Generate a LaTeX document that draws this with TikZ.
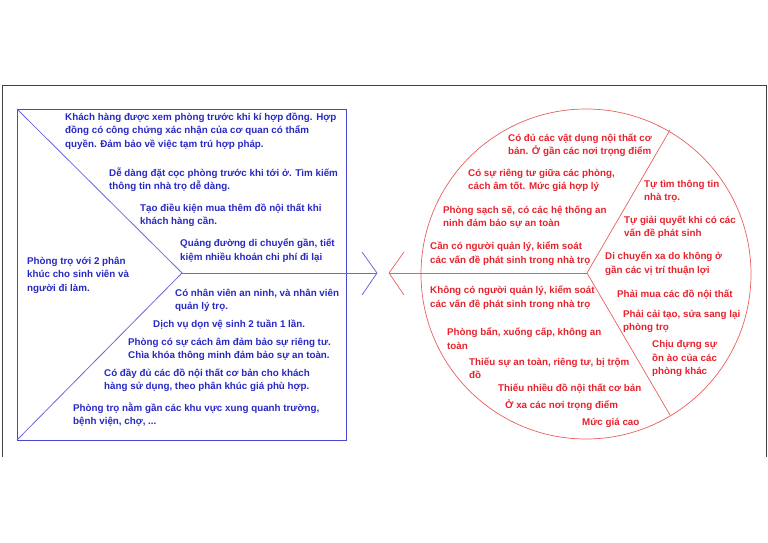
\documentclass[tikz,border=0pt]{standalone}
\usepackage{fontspec}
\setmainfont{Liberation Sans}

\begin{document}
\begin{tikzpicture}[x=1pt,y=-1pt,
    bluetext/.style={text=textblue, anchor=north west, inner sep=0pt, align=left,
        font=\fontsize{9.8}{13.5}\selectfont\bfseries, execute at begin node=\strut},
    redtext/.style={bluetext, text=textred}]
    % Define colors
    \definecolor{textblue}{RGB}{40,40,195}
    \definecolor{lineblue}{RGB}{105,105,220}
    \definecolor{textred}{RGB}{230,35,45}
    \definecolor{linered}{RGB}{232,95,95}

    \useasboundingbox (0,0) rectangle (768,543);

    % Draw the page frame
    \draw[black!75, line width=0.8pt] (2,457) -- (2,85) -- (766,85) -- (766,457);

    % Draw blue box with its chevron and arrow
    \draw[textblue!85, line width=0.9pt] (17,109) rectangle (346,440);
    \coordinate (bvertex) at (182,273);
    \coordinate (btip) at (377,273);
    \draw[lineblue, line width=0.8pt] (17,109) -- (bvertex) -- (17,440);
    \draw[lineblue, line width=0.8pt] (bvertex) -- (btip);
    \draw[lineblue, line width=0.8pt] (362,252) -- (btip) -- (362,295);

    % Draw red circle with its chevron and arrow
    \draw[linered, line width=0.7pt] (586,274) circle (165pt);
    \coordinate (rvertex) at (587,273);
    \coordinate (rtip) at (389,273);
    \draw[linered, line width=0.7pt] (rtip) -- (rvertex);
    \draw[linered, line width=0.7pt] (404,252) -- (rtip) -- (404,295);
    \draw[linered, line width=0.7pt] (670,130) -- (rvertex) -- (670,415);

    % Add blue texts
    \foreach \px/\py/\txt [count=\i] in {
        65/116/{Khách hàng được xem phòng trước khi kí hợp đồng. Hợp\\đồng có công chứng xác nhận của cơ quan có thẩm\\quyền. Đảm bảo về việc tạm trú hợp pháp.},
        109/171/{Dễ dàng đặt cọc phòng trước khi tới ở. Tìm kiếm\\thông tin nhà trọ dễ dàng.},
        140/207/{Tạo điều kiện mua thêm đồ nội thất khi\\khách hàng cần.},
        180/242/{Quảng đường di chuyển gần, tiết\\kiệm nhiều khoản chi phí đi lại},
        27/260/{Phòng trọ với 2 phân\\khúc cho sinh viên và\\người đi làm.},
        175/292/{Có nhân viên an ninh, và nhân viên\\quản lý trọ.},
        153/321/{Dịch vụ dọn vệ sinh 2 tuần 1 lần.},
        128/341/{Phòng có sự cách âm đảm bảo sự riêng tư.\\Chìa khóa thông minh đảm bảo sự an toàn.},
        104/372/{Có đầy đủ các đồ nội thất cơ bản cho khách\\hàng sử dụng, theo phân khúc giá phù hợp.},
        73/406/{Phòng trọ nằm gần các khu vực xung quanh trường,\\bệnh viện, chợ, ...}} {
        \node[bluetext] (blue\i) at (\px,\py-3.5) {\txt};
    }

    % Add red texts
    \foreach \px/\py/\txt [count=\i] in {
        508/137/{Có đủ các vật dụng nội thất cơ\\bản. Ở gần các nơi trọng điểm},
        468/172/{Có sự riêng tư giữa các phòng,\\cách âm tốt. Mức giá hợp lý},
        443/209/{Phòng sạch sẽ, có các hệ thống an\\ninh đảm bảo sự an toàn},
        430/245/{Cần có người quản lý, kiểm soát\\các vấn đề phát sinh trong nhà trọ},
        644/183/{Tự tìm thông tin\\nhà trọ.},
        624/219/{Tự giải quyết khi có các\\vấn đề phát sinh},
        605/255/{Di chuyển xa do không ở\\gần các vị trí thuận lợi},
        617/291/{Phải mua các đồ nội thất},
        623/313/{Phải cải tạo, sửa sang lại\\phòng trọ},
        652/344/{Chịu đựng sự\\ồn ào của các\\phòng khác},
        430/289/{Không có người quản lý, kiểm soát\\các vấn đề phát sinh trong nhà trọ},
        447/331/{Phòng bẩn, xuống cấp, không an\\toàn},
        469/361/{Thiếu sự an toàn, riêng tư, bị trộm\\đồ},
        498/385/{Thiếu nhiều đồ nội thất cơ bản},
        505/402/{Ở xa các nơi trọng điểm},
        582/419/{Mức giá cao}} {
        \node[redtext] (red\i) at (\px,\py-3.5) {\txt};
    }
\end{tikzpicture}
\end{document}
